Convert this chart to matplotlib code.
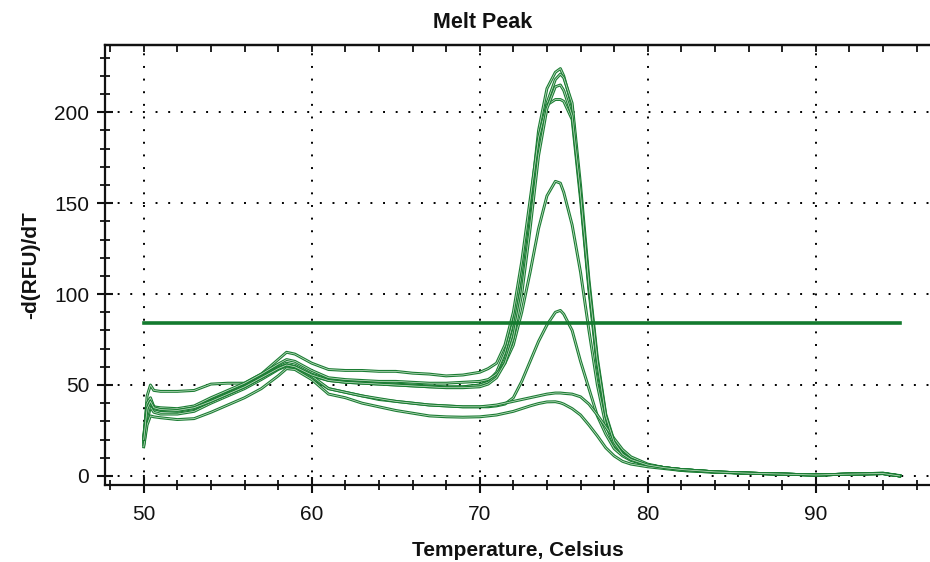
import matplotlib
matplotlib.use("Agg")
import matplotlib.pyplot as plt
import matplotlib.patheffects as pe
from matplotlib.ticker import MultipleLocator

plt.rcParams['font.family'] = ['Liberation Sans', 'DejaVu Sans']

# Temperature grid (Celsius)
temps = ([50.0, 50.2, 50.4, 50.6, 51]
         + [52, 53, 54, 55, 56, 57, 58, 58.5]
         + [59, 60, 61, 62, 63, 64, 65, 66, 67, 68, 69, 70]
         + [70.5, 71, 71.5, 72, 72.5, 73, 73.5, 74, 74.5, 74.8, 75]
         + [75.5, 76, 76.5, 77, 77.5, 78, 78.5, 79, 80]
         + [81, 82, 84, 86, 88, 90, 92, 94, 95])

well_1 = ([20, 36, 42, 38, 37]
          + [36.5, 38, 42, 46, 50, 55, 60, 62]
          + [61, 56, 53, 52, 51.5, 51, 50.5, 50, 49.5, 49, 49, 50]
          + [52, 57, 68, 85, 112, 148, 190, 213, 222, 224, 220]
          + [203, 155, 104, 62, 32, 18, 12, 9, 6]
          + [4.5, 3.5, 2.2, 1.5, 1, 0.5, 1, 1.3, 0])

well_2 = ([22, 38, 41, 37, 36]
          + [36, 37.5, 41.5, 45.5, 49.5, 54.5, 59.5, 61]
          + [60, 55, 52.5, 51.5, 51, 50.5, 50, 49.5, 49, 48.8, 49, 50]
          + [51.5, 55, 64, 80, 105, 140, 180, 205, 218, 221, 219]
          + [205, 160, 108, 65, 34, 19, 12.5, 9, 6]
          + [4.5, 3.5, 2.2, 1.5, 1, 0.5, 1, 1.5, 0.2])

well_3 = ([18, 44, 50, 47, 46.5]
          + [46.5, 47, 50.5, 51, 51, 56, 64, 68]
          + [67, 62, 58.5, 58, 58, 57.5, 57.5, 56.5, 56, 55, 55.5, 57]
          + [59, 62, 72, 90, 118, 152, 186, 204, 207, 207, 206]
          + [196, 152, 102, 60, 31, 18, 12, 9, 6]
          + [4.5, 3.5, 2.2, 1.5, 1, 0.5, 1, 1.5, 0])

well_4 = ([21, 40, 43, 38, 37.5]
          + [37, 38.5, 43, 47, 51, 56, 61.5, 64]
          + [63, 58, 54, 53, 52.5, 52, 52, 51.5, 51, 51, 51.5, 52]
          + [53, 56, 62, 72, 90, 112, 136, 154, 162, 161, 156]
          + [138, 112, 80, 50, 28, 17, 12, 9, 6]
          + [4.5, 3.5, 2.2, 1.5, 1, 0.5, 1, 1.3, 0])

well_5 = ([17, 30, 38, 35, 34]
          + [34, 35.5, 40, 44, 48, 53, 58.5, 60.5]
          + [59.5, 54, 48, 46, 44, 42, 41, 40, 39, 38.5, 38, 38]
          + [38, 38.5, 39.5, 43, 52, 63, 74, 83, 90, 91, 89]
          + [80, 63, 48, 33, 23, 15, 11, 8.5, 6]
          + [4.5, 3.5, 2.2, 1.5, 1, 0.5, 1, 1.3, 0])

well_6 = ([19, 33, 40, 37, 36]
          + [35.5, 37, 41, 45, 49, 54, 59, 61]
          + [60, 55, 48, 46, 44, 42.5, 41, 40, 39, 38.5, 38, 38]
          + [38.5, 39, 40, 41, 42, 43, 44, 45, 45.6, 45.6, 45.4]
          + [45, 43.5, 39.5, 33.5, 27, 20.5, 14.5, 10.5, 6.5]
          + [4.5, 3, 2, 1.5, 1, 0.5, 1, 1.3, 0])

well_7 = ([16, 28, 33, 32.5, 32]
          + [31, 31.5, 35, 39, 43, 48, 55, 59]
          + [58.5, 53, 45, 43, 40, 38, 36, 34.5, 33, 32.5, 32.3, 32.5]
          + [33, 33.5, 34.5, 35.5, 37, 38.5, 39.8, 40.7, 40.8, 40.2, 39.5]
          + [37, 33.5, 28, 22, 15.5, 11, 8, 6.5, 5]
          + [4, 3, 2, 1.5, 1, 0.5, 1, 1.3, 0])

well_8 = ([20, 37, 41, 37.5, 36.5]
          + [36, 37.5, 41, 45, 49, 54, 59, 61]
          + [60, 55.5, 52.5, 51.5, 51, 50.5, 50, 49.5, 49, 48.5, 48.5, 49]
          + [50.5, 54, 62, 76, 100, 136, 176, 202, 214, 215, 212]
          + [198, 155, 105, 63, 33, 18.5, 12, 9, 6]
          + [4.5, 3.5, 2.2, 1.5, 1, 0.5, 1, 1.3, 0])

wells = [well_1, well_2, well_3, well_4, well_5, well_6, well_7, well_8]

threshold_value = 84
threshold_range = [50, 95]

x_major = [50, 60, 70, 80, 90]
y_major = [0, 50, 100, 150, 200]

green = '#1c7d34'

fig = plt.figure(figsize=(9.3, 5.62), dpi=100)
ax = fig.add_axes([0.113, 0.137, 0.887, 0.783])

for w in wells:
    ax.plot(temps, w, color='#cfe6cf', lw=0.5, zorder=3,
            path_effects=[pe.Stroke(linewidth=2.1, foreground=green), pe.Normal()])

ax.plot(threshold_range, [threshold_value, threshold_value], color='#137a2e', lw=2.6, zorder=4)

ax.set_xlim(47.7, 96.8)
ax.set_ylim(-5, 237)

ax.set_xticks(x_major)
ax.set_yticks(y_major)
ax.xaxis.set_minor_locator(MultipleLocator(2))
ax.yaxis.set_minor_locator(MultipleLocator(10))

ax.grid(True, which='major', color='black', linestyle=(0, (1, 5.5)), lw=1.4, zorder=1)

for s in ['left', 'bottom', 'top']:
    ax.spines[s].set_linewidth(1.6)
    ax.spines[s].set_color('#111111')
ax.spines['right'].set_visible(False)

ax.tick_params(axis='both', which='major', direction='inout', length=11, width=1.5,
               labelsize=15, colors='#111111')
ax.tick_params(axis='both', which='minor', direction='inout', length=7, width=1.3,
               colors='#111111')
ax.tick_params(axis='x', which='both', top=False, pad=9)
ax.tick_params(axis='y', which='major', pad=6)

sec = ax.secondary_xaxis('top')
sec.set_xticks(x_major)
sec.xaxis.set_minor_locator(MultipleLocator(2))
sec.tick_params(axis='x', which='both', direction='in', length=5, width=1.3,
                labeltop=False, colors='#111111')
sec.spines['top'].set_linewidth(1.6)
sec.spines['top'].set_color('#111111')

fig.text(483 / 930, 1 - 22 / 562, 'Melt Peak', fontsize=15.5, fontweight='bold',
         color='#111111', ha='center', va='center')
ax.set_xlabel('Temperature, Celsius', fontsize=15, fontweight='bold', labelpad=12, color='#111111')
ax.set_ylabel('-d(RFU)/dT', fontsize=15, fontweight='bold', labelpad=10, color='#111111')

fig.savefig('out.png', dpi=100)
